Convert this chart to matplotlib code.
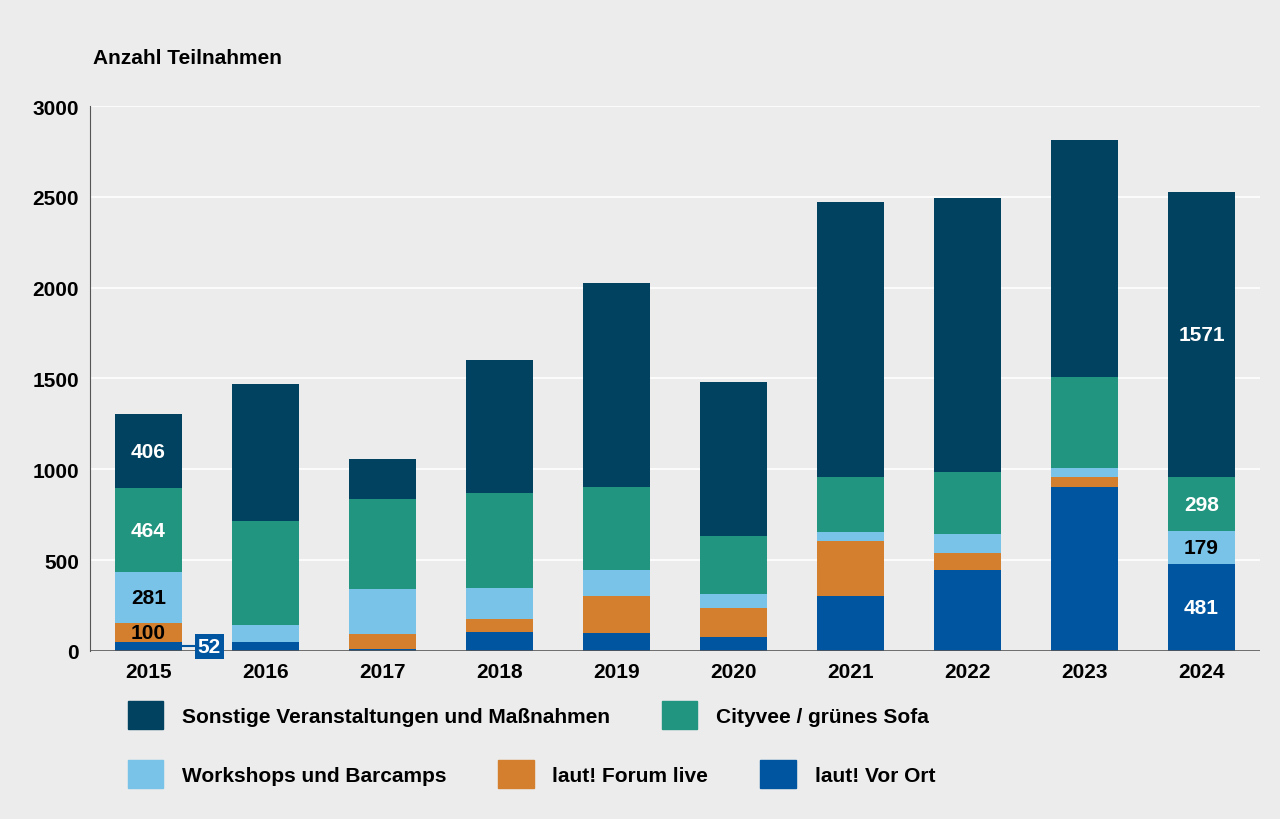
import matplotlib.pyplot as plt
import numpy as np
from matplotlib.patches import Patch

plt.rcParams['font.family'] = ['Liberation Sans', 'DejaVu Sans']
plt.rcParams['font.weight'] = 'bold'

years = ["2015", "2016", "2017", "2018", "2019", "2020", "2021", "2022", "2023", "2024"]
vor_ort = [52, 50, 10, 105, 100, 77, 303, 446, 903, 481]
forum_live = [100, 0, 83, 72, 204, 160, 303, 94, 55, 0]
workshops = [281, 95, 248, 170, 143, 77, 50, 105, 50, 179]
cityvee = [464, 572, 495, 523, 457, 319, 303, 341, 501, 298]
sonstige = [406, 754, 220, 732, 1123, 848, 1514, 1508, 1305, 1571]

series = [
    ("laut! Vor Ort", vor_ort, "#0055a0"),
    ("laut! Forum live", forum_live, "#d47f2e"),
    ("Workshops und Barcamps", workshops, "#79c2e8"),
    ("Cityvee / grünes Sofa", cityvee, "#229580"),
    ("Sonstige Veranstaltungen und Maßnahmen", sonstige, "#00425f"),
]

bg = "#ebeceb"
fig = plt.figure(figsize=(12.8, 8.2), dpi=100, facecolor=bg)
ax = fig.add_axes([0.0703, 0.2049, 0.9141, 0.6646], facecolor=bg)

x = np.arange(len(years))
bottom = np.zeros(len(years))
for name, vals, col in series:
    ax.bar(x, vals, 0.57, bottom=bottom, color=col, zorder=3)
    bottom += np.array(vals)

# value labels for 2015 and 2024
def label(i, idx, color):
    vals = [s[1] for s in series]
    base = sum(v[i] for v in vals[:idx])
    v = vals[idx][i]
    ax.text(i, base + v / 2, str(v), ha="center", va="center", color=color,
            fontsize=15, zorder=4)

label(0, 1, "black"); label(0, 2, "black"); label(0, 3, "white"); label(0, 4, "white")
label(9, 0, "white"); label(9, 2, "black"); label(9, 3, "white"); label(9, 4, "white")
ax.plot([0.15, 0.42], [26, 26], color="#0055a0", lw=1.5, zorder=4)
ax.text(0.52, 26, str(vor_ort[0]), ha="center", va="center", color="white", fontsize=15,
        zorder=5, bbox=dict(boxstyle="square,pad=0.15", fc="#0055a0", ec="none"))

ax.set_xlim(-0.5, 9.5)
ax.set_ylim(0, 3000)
ax.set_yticks(range(0, 3001, 500))
ax.set_xticks(x, years)
ax.tick_params(axis="both", length=0, labelsize=15, pad=8)
ax.grid(axis="y", color="white", lw=1.2, zorder=0)
for s in ["top", "right", "bottom"]:
    ax.spines[s].set_visible(False)
ax.spines["left"].set_color("#555555")
ax.axhline(0, color="#555555", lw=1.2, zorder=4)

fig.text(0.073, 0.929, "Anzahl Teilnahmen", fontsize=15, va="center")

h = {n: Patch(color=c) for n, _, c in series}
kw = dict(frameon=False, fontsize=15, handlelength=1.7, handleheight=1.7,
          handletextpad=0.9, columnspacing=2.5)
n1 = [series[4][0], series[3][0]]
n2 = [series[2][0], series[1][0], series[0][0]]
fig.legend([h[n] for n in n1], n1, ncol=2, loc="center left",
           bbox_to_anchor=(0.085, 0.127), **kw)
fig.legend([h[n] for n in n2], n2, ncol=3, loc="center left",
           bbox_to_anchor=(0.085, 0.055), **kw)

fig.savefig("out.png", facecolor=bg)
